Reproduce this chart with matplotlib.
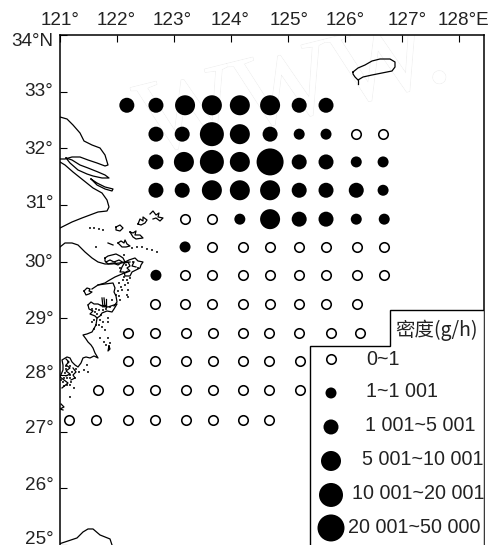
import matplotlib
matplotlib.use("Agg")
import matplotlib.pyplot as plt
import matplotlib.patheffects as pe
from matplotlib.transforms import ScaledTranslation

plt.rcParams['font.family'] = ['Liberation Sans', 'DejaVu Sans']

W, H = 493, 545
LEFT, RIGHT, TOP, BOTTOM = 59.5, 484.0, 35.0, 545.0
X_PER_DEG, Y_PER_DEG = 57.07, 56.67

# Survey stations: latitude of each row, longitudes, density class (0..5)
lat_a = 32.76; lon_a = [122.18,122.69,123.20,123.67,124.16,124.69,125.20,125.67]; cls_a = [2,2,3,3,3,3,2,2]
lat_b = 32.25; lon_b = [122.69,123.15,123.67,124.16,124.69,125.20,125.67,126.20,126.67]; cls_b = [2,2,4,3,2,1,1,0,0]
lat_c = 31.76; lon_c = [122.69,123.18,123.67,124.16,124.69,125.20,125.67,126.20,126.67]; cls_c = [2,3,4,3,5,2,2,1,1]
lat_d = 31.26; lon_d = [122.69,123.15,123.67,124.16,124.69,125.20,125.67,126.20,126.67]; cls_d = [2,2,3,3,3,2,2,2,1]
lat_e = 30.75; lon_e = [123.20,123.67,124.16,124.69,125.20,125.67,126.20,126.69]; cls_e = [0,0,1,3,2,2,1,1]
lat_f = 30.26; lon_f = [123.20,123.67,124.22,124.69,125.20,125.67,126.21,126.69]; cls_f = [1,0,0,0,0,0,0,0]
lat_g = 29.76; lon_g = [122.69,123.20,123.67,124.22,124.69,125.20,125.67,126.21,126.69]; cls_g = [1,0,0,0,0,0,0,0,0]
lat_h = 29.25; lon_h = [122.67,123.20,123.67,124.22,124.69,125.20,125.67,126.21]; cls_h = [0]*8
lat_i = 28.74; lon_i = [122.20,122.67,123.22,123.69,124.22,124.67,125.20,125.76,126.27]; cls_i = [0]*9
lat_j = 28.25; lon_j = [122.20,122.67,123.22,123.69,124.22,124.67,125.21]; cls_j = [0]*7
lat_k = 27.74; lon_k = [121.67,122.20,122.67,123.22,123.69,124.22,124.67,125.21]; cls_k = [0]*8
lat_l = 27.21; lon_l = [121.17,121.64,122.20,122.67,123.22,123.69,124.22,124.67]; cls_l = [0]*8

rows = [(lat_a,lon_a,cls_a),(lat_b,lon_b,cls_b),(lat_c,lon_c,cls_c),(lat_d,lon_d,cls_d),
        (lat_e,lon_e,cls_e),(lat_f,lon_f,cls_f),(lat_g,lon_g,cls_g),(lat_h,lon_h,cls_h),
        (lat_i,lon_i,cls_i),(lat_j,lon_j,cls_j),(lat_k,lon_k,cls_k),(lat_l,lon_l,cls_l)]

class_labels = ['0~1','1~1 001','1 001~5 001','5 001~10 001','10 001~20 001','20 001~50 000']
legend_title = '密度(g/h)'
lon_ticks = [121,122,123,124,125,126,127,128]
lon_labels = ['121°','122°','123°','124°','125°','126°','127°','128°E']
lat_ticks = [34,33,32,31,30,29,28,27,26,25]
lat_labels = ['34°N','33°','32°','31°','30°','29°','28°','27°','26°','25°']

# Map outlines, traced in picture pixels
coast_lines = [
 [(60,117),(67,119),(73,125),(80,133),(84,141),(92,145),(100,148),(105,155),(108,165),(105,166),(97,163),(88,160),(80,157),(72,157),(65,159),(60,159)],
 [(66,158),(72,160),(80,165),(88,168),(98,172),(105,175),(109,178),(102,178),(93,176),(87,174),(78,170),(70,163),(66,158)],
 [(60,162),(65,165),(73,172),(83,180),(93,188),(102,193),(107,200),(109,207),(107,211),(98,212),(90,215),(82,218),(72,222),(60,228)],
 [(91,179),(97,183),(105,187),(113,189),(112,191),(105,189),(97,185),(91,179)],
 [(60,247),(65,243),(72,243),(78,245),(85,252),(92,258),(98,262),(105,264),(112,264),(127,262)],
 [(128,271),(122,274),(115,277),(108,281),(105,283),(98,285),(92,289)],
 [(84,291),(87,288),(90,289),(89,291),(92,292),(89,294),(86,295),(84,291)],
 [(98,285),(105,284),(113,283),(115,288),(114,292),(116,296),(117,302),(114,306)],
 [(88,305),(91,302),(94,304),(98,304),(102,306),(108,307),(117,304),(114,309),(112,312),(107,311),(102,313),(100,316),(97,318),(96,325),(92,332),(87,334),(83,335),(86,339),(88,342),(91,345),(93,348),(95,353),(98,358),(94,356),(90,358),(86,357),(83,358),(81,363),(78,367),(75,365),(72,362),(70,358),(67,357),(62,360),(63,365),(63,370),(60,377),(64,380),(68,383),(62,388)],
 [(88,305),(89,309),(93,311),(90,314),(95,316),(97,318)],
 [(66,359),(69,362),(66,365),(70,368),(66,371),(70,374),(66,376)],
 [(73,368),(76,372),(73,375),(75,378),(71,380)],
 [(116,227),(120,225),(123,228),(120,231),(116,230),(116,227)],
 [(138,224),(140,219),(143,221),(143,217),(147,220),(145,223),(141,225),(138,224)],
 [(150,214),(153,211),(156,215),(159,213),(158,217),(163,218),(160,221),(156,218),(153,219)],
 [(130,232),(133,233),(136,231),(135,235),(140,235),(143,238),(136,239),(133,237),(130,232)],
 [(108,243),(113,245)],
 [(118,243),(121,241),(124,243),(125,240),(127,244),(130,246),(126,247),(122,247),(118,243)],
 [(105,258),(108,256),(112,255),(116,254),(120,256),(123,258),(125,262),(121,263),(118,265),(113,263),(108,264),(105,261),(105,258)],
 [(106,262),(110,260),(114,262),(119,260),(124,263),(130,262)],
 [(125,262),(129,260),(135,258),(138,261),(143,262),(141,265),(140,268),(136,270),(132,272),(130,276),(125,276),(124,272),(120,272),(122,267),(125,262)],
 [(128,262),(130,266),(127,268),(130,271),(125,273)],
 [(134,262),(132,266),(136,267)],
 [(102,298),(103,307)], [(104,298),(105,307)], [(106,299),(106,307)], [(100,305),(106,305)],
 [(109,346),(110,349),(108,351),(109,346)],
 [(61,404),(64,407),(60,409),(63,410)],
 [(353,72),(358,68),(365,65),(372,61),(380,59),(390,59),(395,62),(395,67),(392,71),(382,73),(372,75),(363,77),(358,80),(355,77),(353,74),(353,72)],
 [(358,80),(358,84)],
 [(59,544),(68,541),(77,538),(83,532),(88,529),(93,529),(100,535),(110,539),(112,545)],
]
coast_specks = [(90,228),(94,228),(99,229),(103,230),(132,248),(137,247),(142,247),(147,249),(152,250),(157,252),
 (96,247),(124,255),(130,278),(125,285),(122,290),(128,283),(123,280),(127,295),(128,290),(116,295),(128,297),
 (119,283),(121,287),(124,277),(127,280),(118,291),(119,296),(120,300),
 (95,312),(100,320),(103,322),(108,318),(105,330),(100,338),(108,338),(106,345),(104,342),(110,343),(96,325),(92,322),
 (92,309),(96,309),(99,310),(103,310),(106,309),(97,314),(101,315),(94,320),(99,325),(102,327),(94,329),
 (87,365),(84,370),(88,372),(70,375),(70,385),(74,388),(67,378),(63,382),(65,373),(70,366),(66,366),(75,378),
 (79,372),(76,369),(72,372),(70,378),(67,385),(71,382),(64,378),(66,369),(68,362),
 (70,397),(61,380),(64,386),(112,300),(110,307),(108,322),(133,262),(138,268),(115,262),(120,268),(126,265)]

SIZES_PX = [9.5, 11, 15, 20, 24, 27]
LEGEND_Y = [359, 393, 427, 461, 495, 528]
LEGEND_TEXT_X = [366, 366, 365, 362, 352, 348]
LEGEND_TEXT_Y = [360, 392, 426, 460, 494, 528]
LEGEND_MARK_X = 331


def lon_of(px):
    return 121 + (px - LEFT) / X_PER_DEG

def lat_of(py):
    return 34 - (py - TOP) / Y_PER_DEG

def area(d):
    return (d * 0.72) ** 2

def draw_mark(ax, xs, ys, c, z):
    if c == 0:
        ax.scatter(xs, ys, s=area(SIZES_PX[0]), facecolor='white', edgecolor='black', linewidth=1.15, zorder=z)
    else:
        ax.scatter(xs, ys, s=area(SIZES_PX[c]), facecolor='black', edgecolor='none', zorder=z)


fig = plt.figure(figsize=(W / 100, H / 100), dpi=100, facecolor='white')
ax = fig.add_axes([LEFT / W, 1 - BOTTOM / H, (RIGHT - LEFT) / W, (BOTTOM - TOP) / H])
ax.set_xlim(121, lon_of(RIGHT))
ax.set_ylim(25, 34)

# faint watermark
ax.text(lon_of(147), lat_of(155), 'WWW.', family='Liberation Serif', fontsize=76, rotation=14,
        rotation_mode='anchor', color='white', ha='left', va='baseline', zorder=0, clip_on=True,
        path_effects=[pe.withStroke(linewidth=0.9, foreground='#ececec'), pe.Normal()])

for line in coast_lines:
    ax.plot([lon_of(p[0]) for p in line], [lat_of(p[1]) for p in line], color='black', lw=0.9, zorder=2,
            solid_joinstyle='round')
ax.scatter([lon_of(p[0]) for p in coast_specks], [lat_of(p[1]) for p in coast_specks], s=2.0, color='black',
           edgecolor='none', zorder=2)

for lat, lons, classes in rows:
    for lon, c in zip(lons, classes):
        draw_mark(ax, [lon], [lat], c, 3)

# legend box cut into the lower right corner
bx = [lon_of(v) for v in (309.5, 309.5, 390, 390, RIGHT, RIGHT)]
by = [lat_of(v) for v in (BOTTOM + 3, 346, 346, 310, 310, BOTTOM + 3)]
ax.fill(bx, by, facecolor='white', edgecolor='black', lw=1.0, zorder=4, clip_on=True)
ax.text(lon_of(437), lat_of(330), legend_title, fontsize=14, ha='center', va='center', color='#222222', zorder=6,
        family=['Noto Sans CJK SC', 'Liberation Sans'])
for i, lab in enumerate(class_labels):
    draw_mark(ax, [lon_of(LEGEND_MARK_X)], [lat_of(LEGEND_Y[i])], i, 5)
    ax.text(lon_of(LEGEND_TEXT_X[i]), lat_of(LEGEND_TEXT_Y[i]), lab, fontsize=14.2, ha='left', va='center',
            color='#222222', zorder=6)

for s in ('right', 'top', 'left'):
    ax.spines[s].set_linewidth(1.1)
ax.spines['bottom'].set_visible(False)

ax.xaxis.tick_top()
ax.set_xticks(lon_ticks)
ax.set_xticklabels(lon_labels, fontsize=13.6, color='#222222')
ax.set_yticks(lat_ticks)
ax.set_yticklabels(lat_labels, fontsize=13.6, color='#222222')
ax.tick_params(axis='x', direction='in', length=5, width=0.8, pad=4.5)
ax.tick_params(axis='y', direction='in', length=5, width=0.8, pad=4.5)

x_shift_px = [1, 0, -1, -1, 1, 0, 5, 4]
y_shift_px = [-4, 1.7, 1.3, 3, 0.7, 1.3, 4, 5, 5, 8]
for lab, d in zip(ax.get_xticklabels(), x_shift_px):
    lab.set_transform(lab.get_transform() + ScaledTranslation(d / 100, 0, fig.dpi_scale_trans))
for lab, d in zip(ax.get_yticklabels(), y_shift_px):
    lab.set_transform(lab.get_transform() + ScaledTranslation(0, d / 100, fig.dpi_scale_trans))

fig.savefig('out.png', dpi=100, facecolor='white')
